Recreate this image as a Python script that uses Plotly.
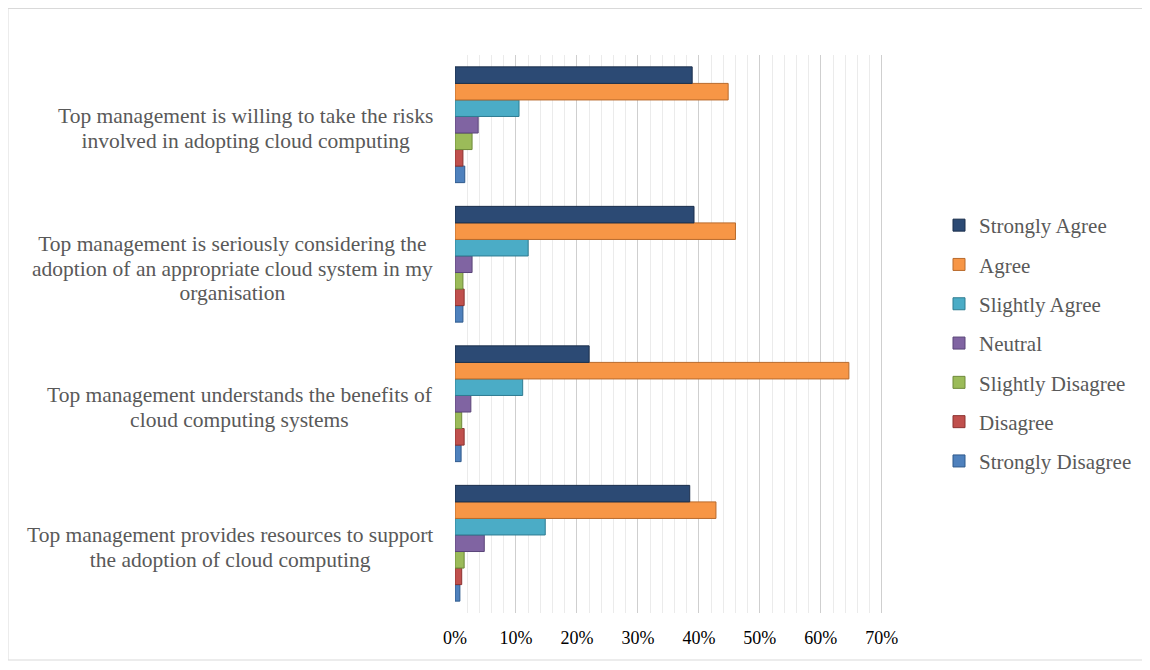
import plotly.graph_objects as go

categories = [
    "Top management provides resources to support<br>the adoption of cloud computing",
    "Top management understands the benefits of<br>cloud computing systems",
    "Top management is seriously considering the<br>adoption of an appropriate cloud system in my<br>organisation",
    "Top management is willing to take the risks<br>involved in adopting cloud computing",
]
series_names = ["Strongly Disagree", "Disagree", "Slightly Disagree", "Neutral",
                "Slightly Agree", "Agree", "Strongly Agree"]
strongly_disagree = [0.008, 0.010, 0.013, 0.016]
disagree = [0.011, 0.015, 0.015, 0.013]
slightly_disagree = [0.015, 0.011, 0.013, 0.028]
neutral = [0.048, 0.026, 0.028, 0.038]
slightly_agree = [0.148, 0.111, 0.120, 0.105]
agree = [0.428, 0.646, 0.460, 0.448]
strongly_agree = [0.385, 0.220, 0.392, 0.389]
values = [strongly_disagree, disagree, slightly_disagree, neutral,
          slightly_agree, agree, strongly_agree]
colors = ["#4F81BD", "#C0504D", "#9BBB59", "#8064A2", "#4BACC6", "#F79646", "#2C4A74"]
edges = ["#2F5A8C", "#8C3331", "#6E8A3A", "#5A4578", "#2F7C91", "#B86A2C", "#1B2F4C"]
tick_vals = [0, 0.1, 0.2, 0.3, 0.4, 0.5, 0.6, 0.7]
tick_text = ["0%", "10%", "20%", "30%", "40%", "50%", "60%", "70%"]

W, H = 1150, 670
ml, mt = 447, 47
pw, ph = 439, 558
mr = W - ml - pw
mb = H - mt - ph

fig = go.Figure()
n = len(series_names)
for i, (name, vals, c, e) in enumerate(zip(series_names, values, colors, edges)):
    fig.add_trace(go.Bar(
        y=categories, x=vals, name=name, orientation="h",
        marker=dict(color=c, line=dict(color=e, width=1)),
        legendgroup=name, legendrank=n - i,
    ))

for cat in categories:
    fig.add_annotation(
        x=(427 - ml) / pw, y=cat, xref="paper", yref="y", yshift=-4,
        text='<span style="font-size:21.5px">' + cat.replace("<br>", '</span><br><span style="font-size:21.5px">') + "</span>",
        showarrow=False, xanchor="right", yanchor="middle", align="center",
        font=dict(family="Liberation Serif", size=19, color="#595959"),
    )

fig.add_shape(type="rect", xref="paper", yref="paper",
              x0=(0 - ml) / pw, x1=(1139 - ml) / pw,
              y0=(H - mb - 652) / ph, y1=(H - mb - 0.5) / ph,
              line=dict(color="#D9D9D9", width=1), fillcolor="rgba(0,0,0,0)", layer="below")

fig.update_layout(
    width=W, height=H,
    margin=dict(l=ml, r=mr, t=mt, b=mb, autoexpand=False),
    paper_bgcolor="white", plot_bgcolor="white",
    barmode="group", bargap=0.17, bargroupgap=0,
    showlegend=True,
    legend=dict(
        traceorder="grouped", tracegroupgap=9,
        xref="container", yref="container",
        x=931 / W, y=1 - 335.5 / H, xanchor="left", yanchor="middle",
        font=dict(family="Liberation Serif", size=21, color="#595959"),
        itemwidth=30,
    ),
    font=dict(family="Liberation Serif"),
)
fig.update_xaxes(
    range=[0, 0.72], tickvals=tick_vals, ticktext=tick_text,
    showgrid=True, gridcolor="#CFCFCF", gridwidth=1,
    minor=dict(dtick=0.02, showgrid=True, gridcolor="#EBEBEB"),
    zeroline=False, showline=False,
    ticks="outside", ticklen=8, tickcolor="rgba(0,0,0,0)",
    tickfont=dict(family="Liberation Serif", size=18, color="#000000"),
)
fig.update_yaxes(showticklabels=False, showgrid=False, zeroline=False, showline=False)

fig.write_html("out.html")
